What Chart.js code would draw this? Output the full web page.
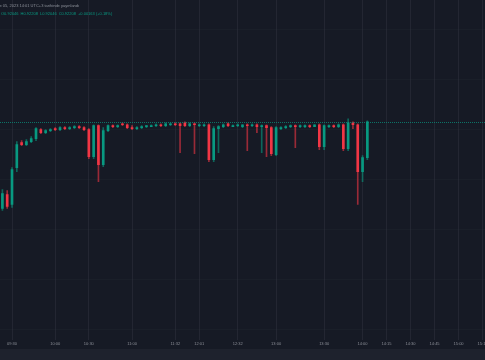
<!DOCTYPE html>
<html>
<head>
<meta charset="utf-8">
<script src="https://cdn.jsdelivr.net/npm/chart.js@4.4.0/dist/chart.umd.min.js"></script>
<style>
  html, body { margin: 0; padding: 0; background: #161a25; }
  #wrap { position: relative; width: 485px; height: 360px; overflow: hidden; background: #161a25; }
  #chart-box { position: absolute; left: 0; top: 0; width: 485px; height: 349px; }
  #footer { position: absolute; left: 0; top: 349px; width: 485px; height: 11px; background: #1e222d; }
  .hdr { position: absolute; white-space: nowrap; font-family: "Liberation Sans", Arial, sans-serif; font-size: 4px; line-height: 5px; }
  #hdr1 { top: 3px; left: -7px; color: rgba(178, 181, 190, 0.75); }
  #hdr2 { top: 11px; left: 1px; color: #089981; }
  #hdr2 span { margin-right: 2px; }
</style>
</head>
<body>
<div id="wrap">
  <div id="chart-box"><canvas id="chart"></canvas></div>
  <div id="footer"></div>
  <div class="hdr" id="hdr1">June 05, 2023 14:01 UTC+3 tarihinde yayınlandı</div>
  <div class="hdr" id="hdr2"><span>O0.92046</span><span>H0.92208</span><span>L0.92046</span><span>C0.92208</span><span>+0.00163 (+0.18%)</span></div>
</div>
<script>
// candle times (one slot per candle, gaps in the session are squeezed out)
const times = [
	"09:24", "09:27", "09:30", "09:33", "09:37", "09:40", "09:43", "09:47", "09:50", "09:53",
	"09:57", "10:00", "10:04", "10:09", "10:13", "10:17", "10:21", "10:26", "10:30", "10:33",
	"10:37", "10:40", "10:43", "10:47", "10:50", "10:53", "10:57", "11:00", "11:04", "11:07",
	"11:11", "11:14", "11:18", "11:21", "11:25", "11:28", "11:32", "11:38", "11:43", "11:49",
	"11:55", "12:01", "12:05", "12:09", "12:13", "12:17", "12:20", "12:24", "12:28", "12:32",
	"12:35", "12:39", "12:42", "12:46", "12:49", "12:53", "12:56", "13:00", "13:03", "13:06",
	"13:09", "13:12", "13:15", "13:18", "13:21", "13:24", "13:27", "13:30", "13:34", "13:37",
	"13:41", "13:45", "13:49", "13:52", "13:56", "14:00", "14:03",
]

const opens = [
	0.92121, 0.92135, 0.92125, 0.92162, 0.92187, 0.92185, 0.92188, 0.92191, 0.92200, 0.92197,
	0.92199, 0.92201, 0.92200, 0.92202, 0.92201, 0.92202, 0.92203, 0.92202, 0.92200, 0.92173,
	0.92204, 0.92165, 0.92199, 0.92204, 0.92203, 0.92206, 0.92205, 0.92202, 0.92201, 0.92202,
	0.92203, 0.92203, 0.92204, 0.92205, 0.92204, 0.92205, 0.92206, 0.92206, 0.92207, 0.92204,
	0.92206, 0.92204, 0.92204, 0.92205, 0.92170, 0.92201, 0.92203, 0.92206, 0.92203, 0.92204,
	0.92203, 0.92205, 0.92204, 0.92205, 0.92203, 0.92204, 0.92202, 0.92175, 0.92201, 0.92202,
	0.92203, 0.92204, 0.92203, 0.92203, 0.92204, 0.92203, 0.92205, 0.92183, 0.92203, 0.92204,
	0.92203, 0.92205, 0.92181, 0.92207, 0.92205, 0.92158, 0.92172,
]
const highs = [
	0.92140, 0.92139, 0.92162, 0.92188, 0.92189, 0.92190, 0.92193, 0.92202, 0.92201, 0.92200,
	0.92201, 0.92202, 0.92203, 0.92203, 0.92203, 0.92204, 0.92204, 0.92203, 0.92201, 0.92205,
	0.92205, 0.92202, 0.92205, 0.92205, 0.92205, 0.92207, 0.92206, 0.92204, 0.92203, 0.92204,
	0.92204, 0.92205, 0.92206, 0.92206, 0.92207, 0.92207, 0.92207, 0.92207, 0.92208, 0.92207,
	0.92207, 0.92206, 0.92206, 0.92206, 0.92203, 0.92204, 0.92206, 0.92207, 0.92205, 0.92206,
	0.92205, 0.92206, 0.92206, 0.92206, 0.92205, 0.92205, 0.92203, 0.92203, 0.92203, 0.92204,
	0.92205, 0.92205, 0.92205, 0.92205, 0.92205, 0.92205, 0.92206, 0.92205, 0.92205, 0.92205,
	0.92206, 0.92206, 0.92211, 0.92208, 0.92206, 0.92174, 0.92209,
]
const lows = [
	0.92119, 0.92121, 0.92122, 0.92158, 0.92184, 0.92184, 0.92187, 0.92189, 0.92196, 0.92196,
	0.92198, 0.92199, 0.92199, 0.92200, 0.92200, 0.92201, 0.92201, 0.92199, 0.92171, 0.92171,
	0.92148, 0.92163, 0.92198, 0.92202, 0.92202, 0.92204, 0.92201, 0.92200, 0.92200, 0.92201,
	0.92202, 0.92203, 0.92203, 0.92203, 0.92203, 0.92204, 0.92204, 0.92177, 0.92203, 0.92203,
	0.92176, 0.92203, 0.92203, 0.92168, 0.92168, 0.92177, 0.92202, 0.92203, 0.92203, 0.92203,
	0.92202, 0.92179, 0.92203, 0.92197, 0.92177, 0.92173, 0.92174, 0.92174, 0.92200, 0.92201,
	0.92202, 0.92182, 0.92202, 0.92202, 0.92202, 0.92203, 0.92180, 0.92180, 0.92202, 0.92202,
	0.92202, 0.92179, 0.92179, 0.92201, 0.92125, 0.92148, 0.92170,
]
const closes = [
	0.92136, 0.92123, 0.92160, 0.92185, 0.92185, 0.92188, 0.92191, 0.92201, 0.92197, 0.92199,
	0.92200, 0.92200, 0.92202, 0.92201, 0.92202, 0.92203, 0.92202, 0.92200, 0.92173, 0.92204,
	0.92165, 0.92199, 0.92204, 0.92203, 0.92204, 0.92205, 0.92202, 0.92201, 0.92202, 0.92203,
	0.92204, 0.92204, 0.92205, 0.92204, 0.92206, 0.92206, 0.92205, 0.92204, 0.92204, 0.92206,
	0.92205, 0.92205, 0.92205, 0.92170, 0.92201, 0.92203, 0.92205, 0.92204, 0.92204, 0.92205,
	0.92205, 0.92204, 0.92205, 0.92203, 0.92204, 0.92202, 0.92176, 0.92202, 0.92202, 0.92203,
	0.92204, 0.92203, 0.92204, 0.92204, 0.92203, 0.92205, 0.92183, 0.92204, 0.92204, 0.92203,
	0.92205, 0.92181, 0.92207, 0.92205, 0.92158, 0.92172, 0.92208,
]

// time labels shown under the chart
const tickTimes = ["09:30", "10:00", "10:30", "11:00", "11:32", "12:01", "12:32", "13:00", "13:30", "14:00", "14:15", "14:30", "14:45", "15:00", "15:15"]
// horizontal grid levels
const priceLevels = [0.92000, 0.92050, 0.92100, 0.92150, 0.92200, 0.92250, 0.92300]

const UP = "#089981"
const DOWN = "#f23645"

// empty future slots, 3 minutes each, up to 15:15
const futureTimes = []
for (let m = 14 * 60 + 6; m <= 15 * 60 + 15; m += 3) {
	futureTimes.push(String(Math.floor(m / 60)).padStart(2, "0") + ":" + String(m % 60).padStart(2, "0"))
}
const labels = times.concat(futureTimes)

const candleColor = (i, alpha) => {
	const up = closes[i] >= opens[i]
	if (alpha === 1) return up ? UP : DOWN
	return up ? "rgba(8, 153, 129, " + alpha + ")" : "rgba(242, 54, 69, " + alpha + ")"
}

// dotted line at the last close
const lastPriceLine = {
	id: "lastPriceLine",
	afterDatasetsDraw(chart) {
		const { ctx, chartArea, scales } = chart
		const y = Math.round(scales.y.getPixelForValue(closes[closes.length - 1])) + 0.5
		ctx.save()
		ctx.strokeStyle = "rgba(8, 153, 129, 0.7)"
		ctx.lineWidth = 1
		ctx.setLineDash([1, 1])
		ctx.beginPath()
		ctx.moveTo(chartArea.left, y)
		ctx.lineTo(chartArea.right, y)
		ctx.stroke()
		ctx.restore()
	},
}

new Chart(document.getElementById("chart"), {
	type: "bar",
	data: {
		labels: labels,
		datasets: [
			{
				label: "wick",
				data: lows.map((l, i) => [l, highs[i]]),
				backgroundColor: (c) => candleColor(c.dataIndex, 0.6),
				barThickness: 1,
				grouped: false,
				order: 2,
			},
			{
				label: "body",
				data: opens.map((o, i) => [o, closes[i]]),
				backgroundColor: (c) => candleColor(c.dataIndex, 1),
				barThickness: 2,
				grouped: false,
				order: 1,
			},
		],
	},
	options: {
		responsive: true,
		maintainAspectRatio: false,
		animation: false,
		devicePixelRatio: 1,
		layout: { padding: { bottom: 2 } },
		plugins: {
			legend: { display: false },
			tooltip: { enabled: false },
		},
		scales: {
			x: {
				grid: {
					offset: false,
					drawTicks: false,
					color: (c) => (c.tick && tickTimes.includes(labels[c.tick.value]) ? "rgba(54, 58, 69, 0.4)" : "transparent"),
				},
				border: { display: false },
				ticks: {
					autoSkip: false,
					maxRotation: 0,
					padding: 1,
					color: "#8b8e97",
					font: { family: "Liberation Sans", size: 4 },
					callback: (v, i) => (tickTimes.includes(labels[i]) ? labels[i] : ""),
				},
				afterFit: (s) => {
					s.paddingLeft = 0
					s.paddingRight = 0
				},
			},
			y: {
				position: "right",
				min: 0.91989,
				max: 0.9233,
				afterBuildTicks: (s) => {
					s.ticks = priceLevels.map((v) => ({ value: v }))
				},
				grid: { drawTicks: false, color: "rgba(54, 58, 69, 0.15)" },
				border: { display: false },
				ticks: { display: false },
			},
		},
	},
	plugins: [lastPriceLine],
})
</script>
</body>
</html>
